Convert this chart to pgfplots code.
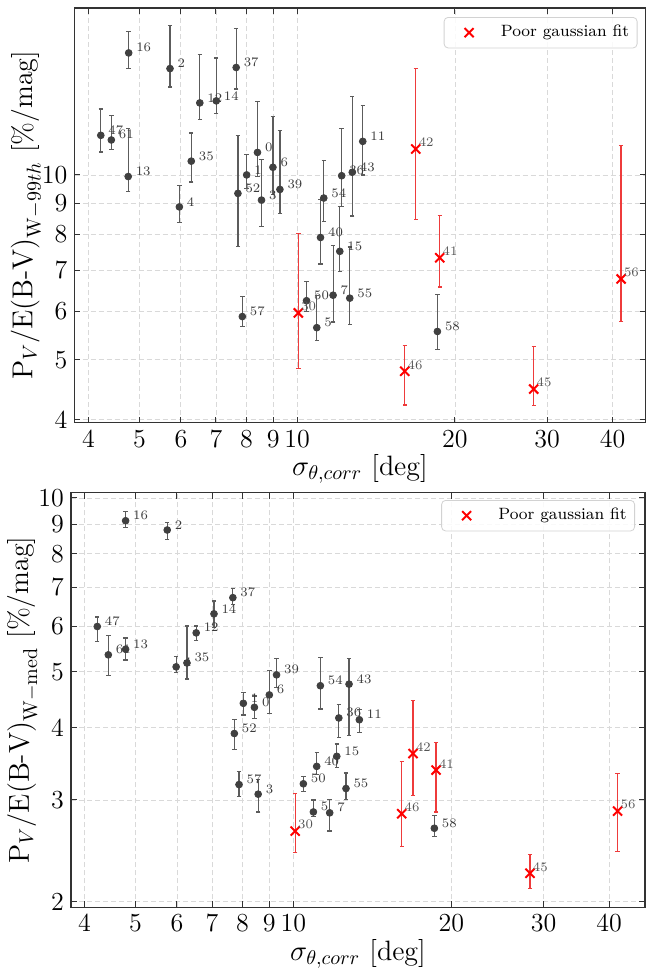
\documentclass[border=0pt]{standalone}
\usepackage{pgfplots}
\usepackage{pgfplotstable}
\pgfplotsset{compat=1.18}

\definecolor{ptgray}{HTML}{404040}
\definecolor{bargray}{HTML}{5C5C5C}
\definecolor{labgray}{HTML}{3A3A3A}
\definecolor{fitred}{HTML}{FF0000}
\definecolor{barred}{HTML}{EE3B3B}
\definecolor{redlab}{HTML}{555555}

% Upper panel: P_V / E(B-V) (W-99th)
\pgfplotstableread{
x y lo hi lab
4.77 15.8 14.9 17.1 16
5.72 14.9 13.9 17.5 2
7.65 14.96 13.8 17.3 37
6.52 13.1 12.3 15.7 12
7.01 13.2 12.6 15.5 14
4.22 11.6 10.9 12.8 47
4.42 11.4 11.0 12.5 61
4.76 9.94 9.39 11.9 13
6.28 10.53 9.74 11.7 35
5.96 8.87 8.36 9.62 4
8.40 10.88 9.94 13.15 0
8.01 10.0 9.5 10.8 1
8.99 10.29 9.3 12.46 6
8.55 9.10 8.23 10.6 3
9.27 9.47 8.65 11.8 39
7.71 9.33 7.65 11.6 52
7.86 5.88 5.66 6.34 57
13.34 11.34 10.0 12.99 11
12.16 9.97 8.88 11.9 36
12.74 10.1 8.57 13.4 43
11.24 9.17 8.41 10.57 54
11.08 7.91 7.16 9.12 40
12.06 7.51 6.97 8.89 15
11.71 6.37 5.76 7.67 7
12.60 6.30 5.70 7.63 55
10.42 6.24 6.0 6.71 50
10.90 5.64 5.38 6.36 5
18.52 5.56 5.19 6.38 58
}\topgood

\pgfplotstableread{
x y lo hi lab
10.05 5.96 4.84 8.03 30
16.84 11.02 8.47 14.9 42
18.71 7.33 6.57 8.58 41
16.04 4.79 4.22 5.28 46
28.27 4.48 4.21 5.25 45
41.5 6.77 5.77 11.16 56
}\toppoor

% Lower panel: P_V / E(B-V) (W-med)
\pgfplotstableread{
x y lo hi lab
4.79 9.13 8.89 9.47 16
5.75 8.80 8.46 9.07 2
7.67 6.72 6.53 6.96 37
7.06 6.30 5.97 6.63 14
6.53 5.84 5.67 6.00 12
4.23 5.99 5.65 6.22 47
4.44 5.35 4.93 5.78 61
4.79 5.47 5.24 5.72 13
5.98 5.10 4.99 5.31 4
6.27 5.18 4.86 6.00 35
9.29 4.94 4.70 5.27 39
9.00 4.56 4.23 5.02 6
8.03 4.41 4.21 4.61 1
8.43 4.34 4.15 4.54 0
7.72 3.91 3.67 4.13 52
7.88 3.19 3.04 3.36 57
8.57 3.07 2.86 3.26 3
11.26 4.73 4.31 5.29 54
12.77 4.76 3.88 5.27 43
12.21 4.16 3.85 4.39 36
13.36 4.13 3.93 4.30 11
12.10 3.57 3.41 3.75 15
11.08 3.43 3.32 3.63 40
10.45 3.20 3.10 3.29 50
12.60 3.14 3.01 3.34 55
10.92 2.86 2.81 3.00 5
11.73 2.85 2.65 3.01 7
18.57 2.68 2.59 2.82 58
}\botgood

\pgfplotstableread{
x y lo hi lab
10.08 2.65 2.43 3.08 30
16.91 3.61 3.05 4.46 42
16.09 2.84 2.49 3.50 46
18.71 3.38 2.86 3.77 41
28.25 2.24 2.11 2.41 45
41.5 2.87 2.44 3.33 56
}\botpoor

\pgfplotsset{
  goodpts/.style={only marks, mark=*, mark size=1.7pt, color=ptgray,
    nodes near coords, point meta=explicit symbolic,
    nodes near coords style={anchor=west, xshift=3.6pt, yshift=2.6pt,
      inner sep=0pt, text=labgray, font=\fontsize{6.5}{7}\selectfont},
    error bars/.cd, y dir=both, y explicit,
    error bar style={bargray, line width=0.6pt},
    error mark options={rotate=90, bargray, line width=0.6pt, mark size=1.1pt}},
  poorpts/.style={only marks, mark=x, mark size=3.2pt, color=fitred,
    mark options={line width=1pt},
    nodes near coords, point meta=explicit symbolic,
    nodes near coords style={anchor=west, xshift=1pt, yshift=3.2pt,
      inner sep=0pt, text=redlab, font=\fontsize{6.5}{7}\selectfont},
    error bars/.cd, y dir=both, y explicit,
    error bar style={barred, line width=0.6pt},
    error mark options={rotate=90, barred, line width=0.6pt, mark size=1.1pt}},
  % legend glyph: red cross with room on both sides of it
  poorlegimg/.style={legend image code/.code={%
      \path[draw=none, fill=none] (0pt,0pt) -- (24.4pt,0pt);
      \path[draw=none, fill=none] plot[mark=x, mark size=3.2pt,
        mark options={draw=fitred, line width=1pt}] coordinates {(8.5pt,0pt)};}},
  fitlegend/.style={legend style={at={(1,1)}, anchor=north east,
      draw=gray!35, fill=white, fill opacity=0.85, text opacity=1,
      rounded corners=2pt, inner xsep=4pt, inner ysep=3pt,
      nodes={inner xsep=0pt, inner ysep=1pt},
      font=\fontsize{8.2}{9.5}\selectfont}},
}

\begin{document}
\begin{tikzpicture}
\begin{axis}[
  scale only axis, xmode=log, ymode=log,
  at={(37.25pt,-4pt)}, anchor=north west,
  width=285.5pt, height=207.35pt,
  xmin=3.76, xmax=46.2, ymin=3.95, ymax=18.7,
  xtick={4,5,6,7,8,9,10,20,30,40},
  xticklabels={4,5,6,7,8,9,10,20,30,40},
  ytick={4,5,6,7,8,9,10}, yticklabels={4,5,6,7,8,9,10},
  tick align=inside, major tick length=3pt,
  tick style={black!80, line width=0.5pt},
  axis line style={black!80, line width=0.7pt},
  xmajorgrids, ymajorgrids,
  major grid style={gray!30, line width=0.4pt, dash pattern=on 2.5pt off 1.5pt},
  ticklabel style={font=\fontsize{13}{15}\selectfont},
  label style={font=\fontsize{14}{16}\selectfont},
  xlabel={$\sigma_{\theta,corr}$ [deg]},
  xlabel style={yshift=3.5pt},
  ylabel={$\mathrm{P}_V/\mathrm{E(B\mbox{-}V)}_{\mathrm{W}-99th}$ [\%/mag]},
  ylabel shift=-7pt,
  fitlegend, legend style={xshift=-4pt, yshift=-4.5pt},
]
\addlegendimage{poorlegimg}
\addlegendentry{Poor gaussian fit}
\addplot[goodpts] table[x=x, y=y, meta=lab,
  y error plus expr=\thisrow{hi}-\thisrow{y},
  y error minus expr=\thisrow{y}-\thisrow{lo}] {\topgood};
\addplot[poorpts] table[x=x, y=y, meta=lab,
  y error plus expr=\thisrow{hi}-\thisrow{y},
  y error minus expr=\thisrow{y}-\thisrow{lo}] {\toppoor};
\end{axis}

\begin{axis}[
  scale only axis, xmode=log, ymode=log,
  at={(35.5pt,-246.35pt)}, anchor=north west,
  width=287pt, height=207.3pt,
  xmin=3.77, xmax=46.8, ymin=1.956, ymax=10.21,
  xtick={4,5,6,7,8,9,10,20,30,40},
  xticklabels={4,5,6,7,8,9,10,20,30,40},
  ytick={2,3,4,5,6,7,8,9,10}, yticklabels={2,3,4,5,6,7,8,9,10},
  tick align=inside, major tick length=3pt,
  tick style={black!80, line width=0.5pt},
  axis line style={black!80, line width=0.7pt},
  xmajorgrids, ymajorgrids,
  major grid style={gray!30, line width=0.4pt, dash pattern=on 2.5pt off 1.5pt},
  ticklabel style={font=\fontsize{13}{15}\selectfont},
  label style={font=\fontsize{14}{16}\selectfont},
  xlabel={$\sigma_{\theta,corr}$ [deg]},
  xlabel style={yshift=3.5pt},
  ylabel={$\mathrm{P}_V/\mathrm{E(B\mbox{-}V)}_{\mathrm{W-med}}$ [\%/mag]},
  ylabel shift=-7pt,
  fitlegend, legend style={xshift=-5pt, yshift=-3.65pt},
]
\addlegendimage{poorlegimg}
\addlegendentry{Poor gaussian fit}
\addplot[goodpts] table[x=x, y=y, meta=lab,
  y error plus expr=\thisrow{hi}-\thisrow{y},
  y error minus expr=\thisrow{y}-\thisrow{lo}] {\botgood};
\addplot[poorpts] table[x=x, y=y, meta=lab,
  y error plus expr=\thisrow{hi}-\thisrow{y},
  y error minus expr=\thisrow{y}-\thisrow{lo}] {\botpoor};
\end{axis}

\pgfresetboundingbox
\useasboundingbox (0pt,0pt) rectangle (323pt,-485.5pt);
\end{tikzpicture}
\end{document}
